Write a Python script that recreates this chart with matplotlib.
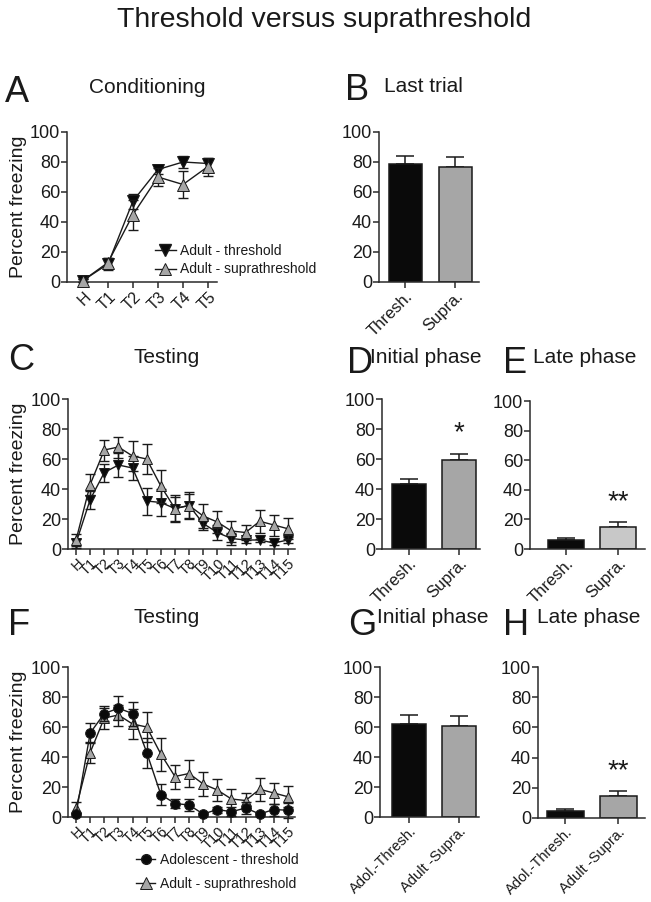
import matplotlib
matplotlib.use('Agg')
import matplotlib.pyplot as plt
from matplotlib.lines import Line2D

plt.rcParams['font.family'] = ['Liberation Sans', 'DejaVu Sans']
plt.rcParams['text.color'] = '#1a1a1a'
plt.rcParams['axes.edgecolor'] = '#2a2a2a'
plt.rcParams['xtick.color'] = '#2a2a2a'
plt.rcParams['ytick.color'] = '#2a2a2a'
plt.rcParams['xtick.labelcolor'] = '#1a1a1a'
plt.rcParams['ytick.labelcolor'] = '#1a1a1a'

# ---------------- data ----------------
cond_labels = ['H', 'T1', 'T2', 'T3', 'T4', 'T5']
cond_thresh = [1, 12, 54, 75, 80, 79]
cond_thresh_err = [1, 4, 5, 3, 4, 4]
cond_supra = [1, 13, 45, 70, 65, 77]
cond_supra_err = [1, 3, 10, 6, 9, 6]

test_labels = ['H', 'T1', 'T2', 'T3', 'T4', 'T5', 'T6', 'T7', 'T8', 'T9',
               'T10', 'T11', 'T12', 'T13', 'T14', 'T15']
test_thresh = [4, 33, 51, 56, 54, 32, 31, 27, 29, 17, 11, 7, 6, 6, 4, 6]
test_thresh_err = [3, 6, 6, 8, 8, 9, 9, 9, 8, 4, 5, 4, 2, 1, 1.5, 2]
test_supra = [6, 43, 66, 68, 62, 60, 42, 27, 29, 22, 18, 12, 11, 18.5, 16, 13.5]
test_supra_err = [4, 7, 7, 7, 10, 10, 11, 8, 9, 8, 7.5, 7, 5, 7.5, 7, 7]
adol_thresh = [2, 56, 69, 72.5, 69, 43, 15, 9, 8, 2, 5, 3.5, 6, 2, 5, 4.5]
adol_thresh_err = [1, 6.5, 5, 8, 8, 10, 7, 3, 4, 1, 2, 3, 4, 1, 4, 5]

bar_labels = ['Thresh.', 'Supra.']
last_vals = [78.5, 77]
last_err = [5.6, 6.3]
init_vals = [43.3, 59.6]
init_err = [3.4, 3.8]
late_vals = [6.2, 15]
late_err = [1.2, 3]
adol_bar_labels = ['Adol.-Thresh.', 'Adult -Supra.']
adol_init_vals = [62, 60.4]
adol_init_err = [6, 6.7]
adol_late_vals = [4.8, 14.8]
adol_late_err = [1.2, 2.9]

yticks = [0, 20, 40, 60, 80, 100]

# ---------------- layout ----------------
W, H = 651, 902
fig = plt.figure(figsize=(W / 100, H / 100), dpi=100)

BLACK = '#0a0a0a'
GRAY = '#a6a6a6'
LIGHT = '#c8c8c8'


def add_ax(x0, y0, x1, y1):
    return fig.add_axes([x0 / W, 1 - y1 / H, (x1 - x0) / W, (y1 - y0) / H])


def style(ax, xlim, labels, xfs, xticks=None):
    ax.set_ylim(0, 100)
    ax.set_xlim(*xlim)
    for s in ['top', 'right']:
        ax.spines[s].set_visible(False)
    for s in ['left', 'bottom']:
        ax.spines[s].set_linewidth(1.1)
    ax.set_yticks(yticks)
    ax.set_yticklabels([str(v) for v in yticks], fontsize=13)
    ax.tick_params(axis='y', length=4, width=1.1, pad=1)
    ax.tick_params(axis='x', length=4, width=1.1, pad=1)
    if xticks is None:
        xticks = list(range(len(labels)))
    ax.set_xticks(xticks)
    ax.set_xticklabels(labels, rotation=45, ha='right', rotation_mode='anchor',
                       fontsize=xfs)


def ftext(x, y, s, size, ha='left', **kw):
    fig.text(x / W, 1 - y / H, s, fontsize=size, ha=ha, va='baseline', **kw)


def ylabel(yc):
    fig.text(19 / W, 1 - yc / H, 'Percent freezing', fontsize=14, rotation=90,
             ha='center', va='center')


def line_series(ax, vals, errs, marker, fc, ms, cap, z):
    x = list(range(len(vals)))
    ax.errorbar(x, vals, yerr=errs, fmt='none', ecolor='#1a1a1a', elinewidth=1.0,
                capsize=cap, capthick=1.0, zorder=z, clip_on=False)
    ax.plot(x, vals, color='#1a1a1a', lw=1.0, marker=marker, markersize=ms,
            markerfacecolor=fc, markeredgecolor='#1a1a1a', markeredgewidth=0.7,
            zorder=z + 0.5, clip_on=False)


def bar_panel(ax, vals, errs, colors, width):
    x = list(range(len(vals)))
    ax.bar(x, vals, width=width, color=colors, edgecolor='#1a1a1a', linewidth=1.1,
           zorder=2)
    ax.errorbar(x, vals, yerr=[[0] * len(errs), errs], fmt='none', ecolor='#1a1a1a',
                elinewidth=1.1, capsize=6.5, capthick=1.1, zorder=1)


# Title
ftext(324, 27, 'Threshold versus suprathreshold', 20.5, ha='center')

# ---- A ----
axA = add_ax(67, 132, 217, 282)
line_series(axA, cond_thresh, cond_thresh_err, 'v', BLACK, 9, 3.5, 3)
line_series(axA, cond_supra, cond_supra_err, '^', GRAY, 9, 3.5, 4)
style(axA, (-0.64, 5.36), cond_labels, 11.5)
ylabel(207)
ftext(5, 102, 'A', 26)
ftext(147, 93, 'Conditioning', 15, ha='center')
hA = [Line2D([], [], color='#1a1a1a', lw=1, marker='v', ms=8, mfc=BLACK, mec='#1a1a1a'),
      Line2D([], [], color='#1a1a1a', lw=1, marker='^', ms=8, mfc=GRAY, mec='#1a1a1a', mew=0.7)]
axA.legend(hA, ['Adult - threshold', 'Adult - suprathreshold'], loc='center left',
           bbox_to_anchor=(155 / W, 1 - 260 / H), bbox_transform=fig.transFigure,
           frameon=False, fontsize=10, handlelength=1.5, handletextpad=0.3,
           labelspacing=0.35, borderpad=0, borderaxespad=0)

# ---- B ----
axB = add_ax(379, 132, 479, 282)
bar_panel(axB, last_vals, last_err, [BLACK, GRAY], 0.66)
style(axB, (-0.52, 1.48), bar_labels, 12)
ftext(345, 100, 'B', 26)
ftext(384, 92, 'Last trial', 15)

# ---- C ----
axC = add_ax(68, 399, 295, 549)
line_series(axC, test_thresh, test_thresh_err, 'v', BLACK, 7.5, 3.5, 3)
line_series(axC, test_supra, test_supra_err, '^', GRAY, 7.5, 3.5, 4)
style(axC, (-0.57, 15.5), test_labels, 10.5)
ylabel(474)
ftext(8, 370, 'C', 26)
ftext(167, 363, 'Testing', 15, ha='center')

# ---- D ----
axD = add_ax(382, 399, 480, 549)
bar_panel(axD, init_vals, init_err, [BLACK, GRAY], 0.68)
style(axD, (-0.54, 1.42), bar_labels, 12)
axD.text(1, init_vals[1] + init_err[1] + 5, '*', ha='center', va='bottom', fontsize=20)
ftext(347, 373, 'D', 26)
ftext(370, 363, 'Initial phase', 15)

# ---- E ----
axE = add_ax(530, 401, 645, 549)
bar_panel(axE, late_vals, late_err, [BLACK, LIGHT], 0.69)
style(axE, (-0.69, 1.52), bar_labels, 12)
axE.text(1, late_vals[1] + late_err[1] + 5, '**', ha='center', va='bottom', fontsize=20)
ftext(503, 373, 'E', 26)
ftext(533, 363, 'Late phase', 15)

# ---- F ----
axF = add_ax(68, 667, 295, 817)
line_series(axF, test_supra, test_supra_err, '^', GRAY, 7.5, 3.5, 3)
line_series(axF, adol_thresh, adol_thresh_err, 'o', BLACK, 7, 3.5, 4)
style(axF, (-0.57, 15.5), test_labels, 10.5)
ylabel(742)
ftext(8, 635, 'F', 26)
ftext(167, 623, 'Testing', 15, ha='center')
hF = [Line2D([], [], color='#1a1a1a', lw=1, marker='o', ms=7, mfc=BLACK, mec='#1a1a1a'),
      Line2D([], [], color='#1a1a1a', lw=1, marker='^', ms=8, mfc=GRAY, mec='#1a1a1a', mew=0.7)]
axF.legend(hF, ['Adolescent - threshold', 'Adult - suprathreshold'], loc='center left',
           bbox_to_anchor=(136 / W, 1 - 872 / H), bbox_transform=fig.transFigure,
           frameon=False, fontsize=10, handlelength=1.4, handletextpad=0.3,
           labelspacing=0.7, borderpad=0, borderaxespad=0)

# ---- G ----
axG = add_ax(380, 667, 479, 817)
bar_panel(axG, adol_init_vals, adol_init_err, [BLACK, GRAY], 0.68)
style(axG, (-0.58, 1.4), adol_bar_labels, 10.5)
ftext(348, 635, 'G', 26)
ftext(377, 623, 'Initial phase', 15)

# ---- H ----
axH = add_ax(538, 667, 645, 818)
bar_panel(axH, adol_late_vals, adol_late_err, [BLACK, GRAY], 0.7)
style(axH, (-0.52, 1.51), adol_bar_labels, 10.5)
axH.text(1, adol_late_vals[1] + adol_late_err[1] + 5, '**', ha='center', va='bottom',
         fontsize=20)
ftext(503, 635, 'H', 26)
ftext(537, 623, 'Late phase', 15)

fig.savefig('out.png', dpi=100)
